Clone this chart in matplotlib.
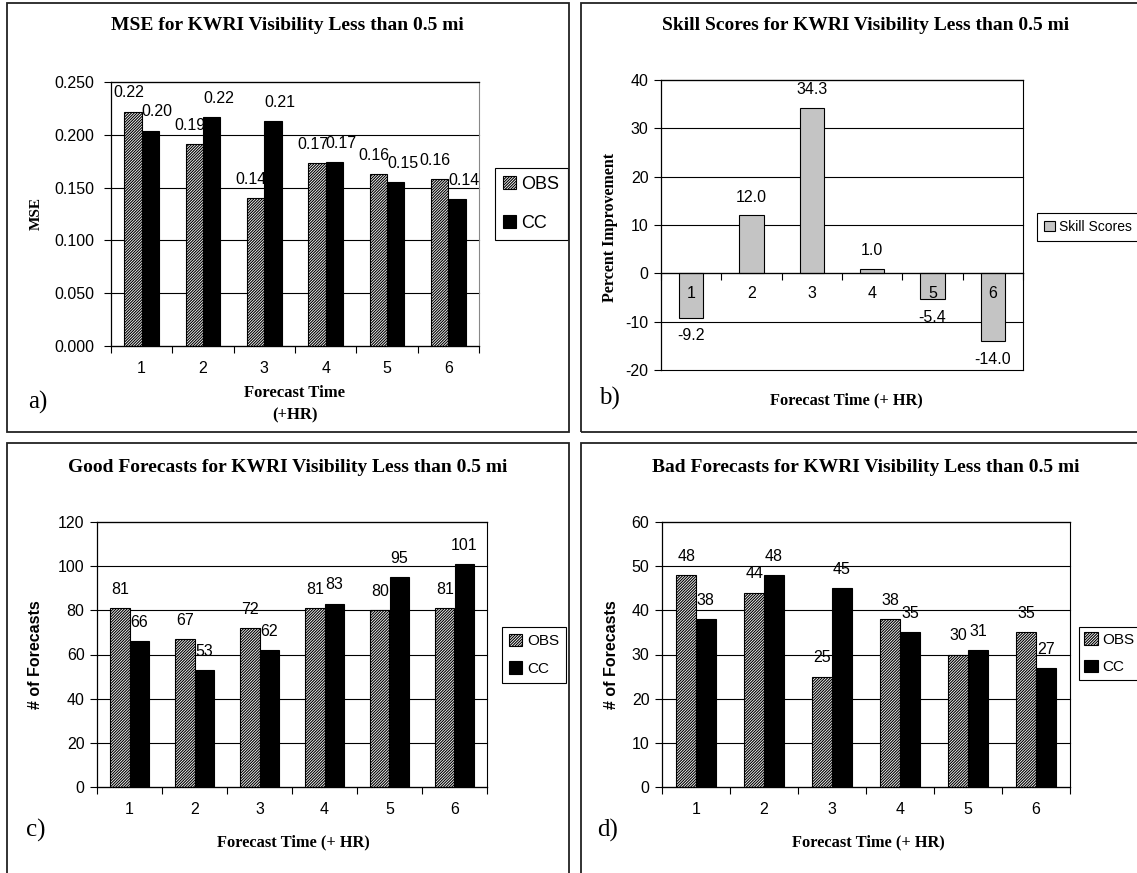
import numpy as np
import matplotlib
matplotlib.use("Agg")
import matplotlib.pyplot as plt
from matplotlib.patches import Rectangle
from matplotlib.ticker import FormatStrFormatter

# data
hours = [1, 2, 3, 4, 5, 6]

mse_obs = [0.222, 0.191, 0.140, 0.173, 0.163, 0.158]
mse_cc = [0.204, 0.217, 0.213, 0.174, 0.155, 0.139]

skill = [-9.2, 12.0, 34.3, 1.0, -5.4, -14.0]

good_obs = [81, 67, 72, 81, 80, 81]
good_cc = [66, 53, 62, 83, 95, 101]

bad_obs = [48, 44, 25, 38, 30, 35]
bad_cc = [38, 48, 45, 35, 31, 27]

W, H = 1137, 873
SERIF = ["Liberation Serif", "DejaVu Serif"]
plt.rcParams["font.family"] = ["Liberation Sans", "DejaVu Sans"]
plt.rcParams["hatch.linewidth"] = 0.8

fig = plt.figure(figsize=(W / 100, H / 100), dpi=100)


def px_axes(x0, y0, x1, y1):
    return fig.add_axes([x0 / W, 1 - y1 / H, (x1 - x0) / W, (y1 - y0) / H])


def ftext(x, y, s, **kw):
    fig.text(x / W, 1 - y / H, s, ha="center", va="center", **kw)


def style_axes(ax, ymin, ymax, step, fmt, ypad, right_col="black"):
    x = np.arange(len(hours)) + 1
    yt = np.arange(ymin, ymax + step / 2, step)
    ax.set_xlim(0.5, len(hours) + 0.5)
    ax.set_ylim(ymin, ymax)
    ax.set_yticks(yt)
    ax.yaxis.set_major_formatter(FormatStrFormatter(fmt))
    ax.set_xticks(np.arange(0.5, len(hours) + 1, 1))
    ax.set_xticklabels([])
    ax.set_xticks(x, minor=True)
    ax.set_xticklabels([str(h) for h in hours], minor=True)
    ax.tick_params(axis="x", which="major", length=5, width=0.8)
    ax.tick_params(axis="x", which="minor", length=0, pad=11, labelsize=11.5)
    ax.tick_params(axis="y", length=5, width=0.8, pad=ypad, labelsize=11.5)
    # gridlines behind the bars, tick labels above them
    for y in yt:
        ax.axhline(y, color="black", linewidth=0.8, zorder=0.5, clip_on=False)
    for s in ["left", "bottom", "top"]:
        ax.spines[s].set_color("black")
        ax.spines[s].set_linewidth(0.9)
    ax.spines["right"].set_color(right_col)
    ax.spines["right"].set_linewidth(0.8)


def grouped(ax, obs, cc, width, fmt, dx=(0, 0), off=13.5):
    x = np.arange(len(hours)) + 1
    b1 = ax.bar(x - width / 2, obs, width, facecolor="white", edgecolor="black",
                hatch="////////////", linewidth=0.8, label="OBS")
    b2 = ax.bar(x + width / 2, cc, width, facecolor="black", edgecolor="black",
                linewidth=0.8, label="CC")
    for bars, vals, d in [(b1, obs, dx[0]), (b2, cc, dx[1])]:
        for r, v in zip(bars, vals):
            ax.annotate(fmt % v, (r.get_x() + r.get_width() / 2, v),
                        xytext=(d, off), textcoords="offset points",
                        ha="center", va="center", fontsize=11.5)


def legend(ax, x, y, fs, spacing, pad, hl):
    leg = ax.legend(loc="upper left", bbox_to_anchor=(x / W, 1 - y / H),
                    bbox_transform=fig.transFigure, fancybox=False,
                    edgecolor="black", framealpha=1, fontsize=fs,
                    handlelength=hl, handleheight=hl, handletextpad=0.3,
                    labelspacing=spacing, borderpad=pad, borderaxespad=0)
    leg.get_frame().set_linewidth(0.8)


# a) MSE
ax = px_axes(111, 82, 479, 346)
style_axes(ax, 0, 0.25, 0.05, "%.3f", 7, right_col="#888888")
grouped(ax, mse_obs, mse_cc, 0.285, "%.2f", dx=(-3, 5))
legend(ax, 495, 168, 13, 1.2, 0.45, 0.72)
ftext(287, 26, "MSE for KWRI Visibility Less than 0.5 mi", family=SERIF,
      weight="bold", fontsize=14)
ftext(36, 213, "MSE", family=SERIF, weight="bold", fontsize=11, rotation=90)
ftext(295, 393, "Forecast Time", family=SERIF, weight="bold", fontsize=12)
ftext(295, 415, "(+HR)", family=SERIF, weight="bold", fontsize=12)
ftext(38, 402, "a)", family=SERIF, fontsize=18)

# b) Skill scores
ax = px_axes(661, 80, 1023, 370)
style_axes(ax, -20, 40, 10, "%d", 4)
ax.spines["bottom"].set_position(("data", 0))
ax.tick_params(axis="x", which="minor", pad=9)
x = np.arange(len(hours)) + 1
bars = ax.bar(x, skill, 0.4, facecolor="#c4c4c4", edgecolor="black",
              linewidth=0.8, label="Skill Scores")
for r, v in zip(bars, skill):
    ax.annotate("%.1f" % v, (r.get_x() + r.get_width() / 2, v),
                xytext=(0, 13 if v > 0 else -13), textcoords="offset points",
                ha="center", va="center", fontsize=11.5)
legend(ax, 1037, 213, 10, 0.5, 0.5, 0.8)
ftext(866, 26, "Skill Scores for KWRI Visibility Less than 0.5 mi",
      family=SERIF, weight="bold", fontsize=14)
ftext(610, 227, "Percent Improvement", family=SERIF, weight="bold",
      fontsize=11.5, rotation=90)
ftext(846, 400, "Forecast Time (+ HR)", family=SERIF, weight="bold",
      fontsize=11.8)
ftext(609, 398, "b)", family=SERIF, fontsize=18)

# c) Good forecasts
ax = px_axes(97, 522, 487, 787)
style_axes(ax, 0, 120, 20, "%d", 4)
grouped(ax, good_obs, good_cc, 0.3, "%d")
legend(ax, 502, 627, 11, 0.85, 0.45, 0.88)
ftext(288, 468, "Good Forecasts for KWRI Visibility Less than 0.5 mi",
      family=SERIF, weight="bold", fontsize=14)
ftext(36, 655, "# of Forecasts", weight="bold", fontsize=11.5, rotation=90)
ftext(293, 842, "Forecast Time (+ HR)", family=SERIF, weight="bold",
      fontsize=11.8)
ftext(36, 830, "c)", family=SERIF, fontsize=18)

# d) Bad forecasts
ax = px_axes(662, 522, 1070, 787)
style_axes(ax, 0, 60, 10, "%d", 4)
grouped(ax, bad_obs, bad_cc, 0.29, "%d")
legend(ax, 1079, 627, 11, 0.85, 0.35, 0.88)
ftext(866, 468, "Bad Forecasts for KWRI Visibility Less than 0.5 mi",
      family=SERIF, weight="bold", fontsize=14)
ftext(611, 655, "# of Forecasts", weight="bold", fontsize=11.5, rotation=90)
ftext(868, 842, "Forecast Time (+ HR)", family=SERIF, weight="bold",
      fontsize=11.8)
ftext(608, 830, "d)", family=SERIF, fontsize=18)

# panel frames
for x0, y0, x1, y1 in [(7, 3, 569, 432), (581, 3, 1150, 432),
                       (7, 443, 569, 890), (581, 443, 1150, 890)]:
    fig.add_artist(Rectangle((x0 / W, 1 - y1 / H), (x1 - x0) / W, (y1 - y0) / H,
                             transform=fig.transFigure, fill=False,
                             edgecolor="#222222", linewidth=1.3))

fig.savefig("out.png", dpi=100)
